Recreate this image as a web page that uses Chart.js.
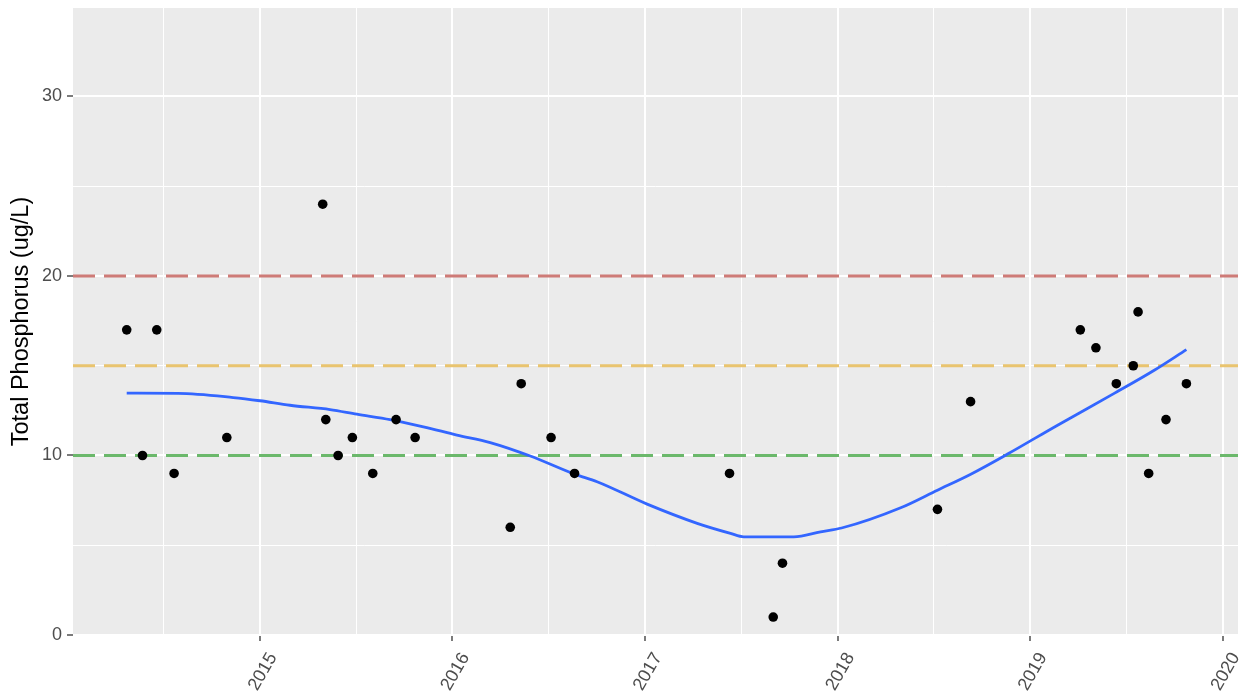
<!DOCTYPE html>
<html>
<head>
<meta charset="utf-8">
<script src="https://cdn.jsdelivr.net/npm/chart.js@4.4.1/dist/chart.umd.min.js"></script>
<style>
  body { margin: 0; background: #fff; }
  canvas { display: block; }
</style>
</head>
<body>
<canvas id="tpChart" width="1239" height="694"></canvas>
<script>
// Sample dates (decimal years) and total phosphorus readings
const sampleYear = [2014.308, 2014.390, 2014.464, 2014.554, 2014.828, 2015.326, 2015.342, 2015.406, 2015.480, 2015.586,
    2015.707, 2015.806, 2016.300, 2016.357, 2016.512, 2016.634, 2017.439, 2017.666, 2017.714, 2018.519,
    2018.691, 2019.261, 2019.342, 2019.448, 2019.536, 2019.561, 2019.616, 2019.706, 2019.812];
const totalP = [17, 10, 17, 9, 11, 24, 12, 10, 11, 9,
    12, 11, 6, 14, 11, 9, 9, 1, 4, 7,
    13, 17, 16, 14, 15, 18, 9, 12, 14];

// Smoothed trend (loess)
const smoothYear = [2014.308, 2014.575, 2014.861, 2015.0, 2015.156, 2015.364, 2015.503, 2015.676, 2015.849, 2016.023,
    2016.196, 2016.404, 2016.634, 2016.751, 2017.011, 2017.271, 2017.444, 2017.513, 2017.773, 2017.912,
    2018.021, 2018.328, 2018.519, 2018.692, 2018.883, 2019.143, 2019.437, 2019.645, 2019.812];
const smoothTP = [13.47, 13.46, 13.23, 13.05, 12.8, 12.56, 12.3, 12.0, 11.6, 11.14,
    10.72, 9.97, 8.96, 8.54, 7.29, 6.22, 5.66, 5.47, 5.47, 5.75,
    5.96, 7.09, 8.07, 8.96, 10.08, 11.69, 13.46, 14.75, 15.9];

// Reference thresholds
const thresholdValues = [20, 15, 10];
const thresholdColors = ['#CE7B77', '#E9C46F', '#6BB86B'];

// Axis ticks (majors get labels, halves are minor grid)
const xTicks = [2014.5, 2015, 2015.5, 2016, 2016.5, 2017, 2017.5, 2018, 2018.5, 2019, 2019.5, 2020];
const yTicks = [0, 5, 10, 15, 20, 25, 30];

const xMin = 2014.029, xMax = 2020.08;
const yMin = 0, yMax = 34.93;

const isMajorX = v => Number.isInteger(v);
const isMajorY = v => v % 10 === 0;
const fontFamily = '"Liberation Sans", Arial, sans-serif';

// grey panel behind the plot
Chart.register({
    id: 'panelBg',
    beforeDraw(chart) {
        const { ctx, chartArea } = chart;
        ctx.save();
        ctx.fillStyle = '#EBEBEB';
        ctx.fillRect(chartArea.left, chartArea.top, chartArea.right - chartArea.left, chartArea.bottom - chartArea.top);
        ctx.restore();
    },
});

const thresholdSets = thresholdValues.map((v, i) => ({
    type: 'line',
    data: [{ x: xMin, y: v }, { x: xMax, y: v }],
    borderColor: thresholdColors[i],
    borderWidth: 3,
    borderDash: [22, 9],
    pointRadius: 0,
}));

new Chart(document.getElementById('tpChart').getContext('2d'), {
    type: 'scatter',
    data: {
        datasets: [
            {
                type: 'scatter',
                data: sampleYear.map((x, i) => ({ x: x, y: totalP[i] })),
                backgroundColor: '#000',
                borderColor: '#000',
                pointRadius: 4.8,
                pointBorderWidth: 0,
            },
            {
                type: 'line',
                data: smoothYear.map((x, i) => ({ x: x, y: smoothTP[i] })),
                borderColor: '#3366FF',
                borderWidth: 2.8,
                pointRadius: 0,
                cubicInterpolationMode: 'monotone',
            },
            ...thresholdSets,
        ],
    },
    options: {
        responsive: false,
        animation: false,
        layout: { autoPadding: false, padding: { top: 8, right: 1, bottom: 0, left: 0 } },
        plugins: {
            legend: { display: false },
            tooltip: { enabled: false },
        },
        scales: {
            x: {
                type: 'linear',
                min: xMin,
                max: xMax,
                afterBuildTicks(scale) { scale.ticks = xTicks.map(v => ({ value: v })); },
                afterFit(scale) {
                    scale.height = 59;
                    scale.paddingLeft = 0;
                    scale.paddingRight = 0;
                },
                border: { display: false },
                grid: {
                    color: '#FFFFFF',
                    lineWidth: c => (c.tick && isMajorX(c.tick.value) ? 2 : 1),
                    tickColor: c => (c.tick && isMajorX(c.tick.value) ? '#333333' : 'rgba(0,0,0,0)'),
                    tickWidth: 1.3,
                    tickLength: 6,
                },
                ticks: {
                    minRotation: 60,
                    maxRotation: 60,
                    autoSkip: false,
                    padding: 8,
                    labelOffset: 13,
                    color: '#4D4D4D',
                    font: { family: fontFamily, size: 18 },
                    callback: v => (isMajorX(v) ? String(v) : ''),
                },
            },
            y: {
                min: yMin,
                max: yMax,
                afterBuildTicks(scale) { scale.ticks = yTicks.map(v => ({ value: v })); },
                afterFit(scale) {
                    scale.width = 73;
                    scale.paddingTop = 0;
                    scale.paddingBottom = 0;
                },
                border: { display: false },
                grid: {
                    color: '#FFFFFF',
                    lineWidth: c => (c.tick && isMajorY(c.tick.value) ? 2 : 1),
                    tickColor: c => (c.tick && isMajorY(c.tick.value) ? '#333333' : 'rgba(0,0,0,0)'),
                    tickWidth: 1.3,
                    tickLength: 6,
                },
                ticks: {
                    padding: 5,
                    color: '#4D4D4D',
                    font: { family: fontFamily, size: 18 },
                    callback: v => (isMajorY(v) ? String(v) : ''),
                },
                title: {
                    display: true,
                    text: 'Total Phosphorus (ug/L)',
                    color: '#000',
                    padding: { top: 7, bottom: 0 },
                    font: { family: fontFamily, size: 23.5 },
                },
            },
        },
    },
});
</script>
</body>
</html>
